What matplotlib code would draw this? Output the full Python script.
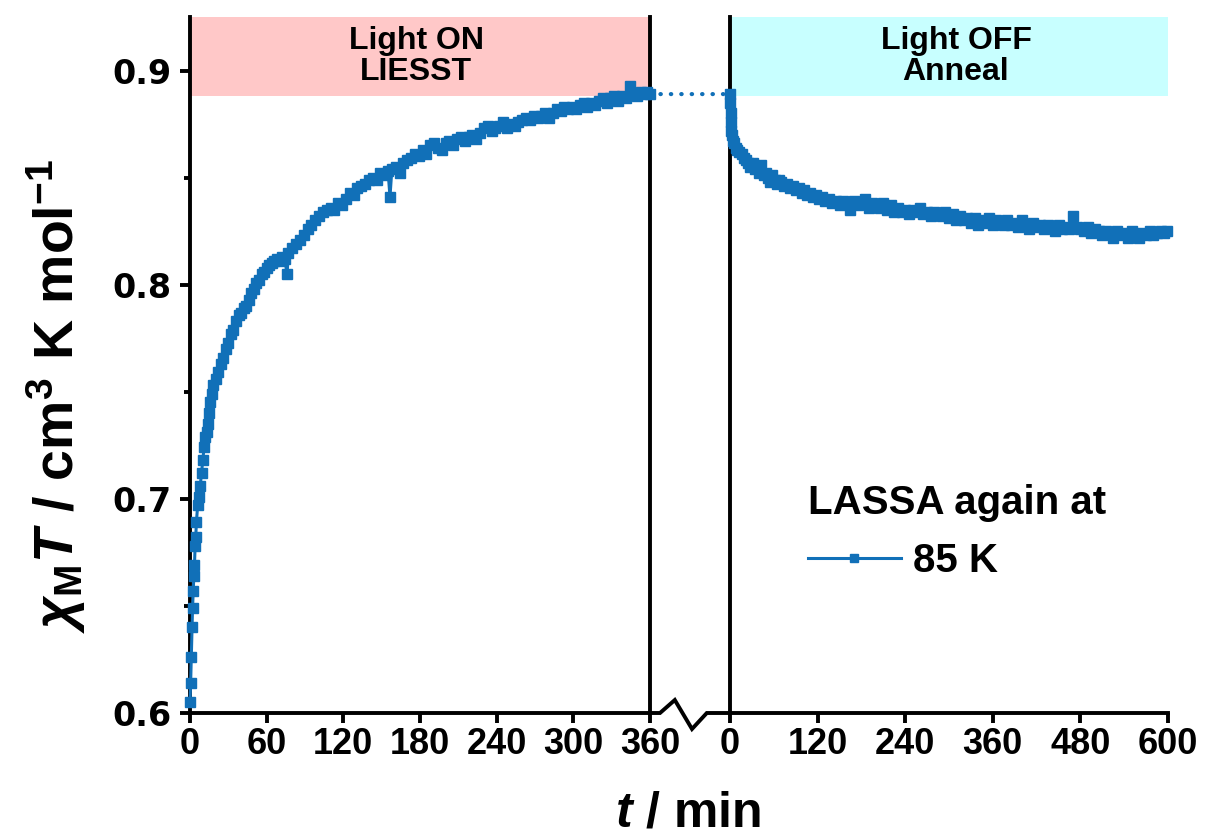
import matplotlib
matplotlib.use("Agg")
import matplotlib.pyplot as plt
from matplotlib.patches import ConnectionPatch
from matplotlib.lines import Line2D
from matplotlib.ticker import MultipleLocator

plt.rcParams['font.family'] = ['Liberation Sans', 'DejaVu Sans']
plt.rcParams['mathtext.fontset'] = 'custom'
plt.rcParams['mathtext.rm'] = 'Liberation Sans:bold'
plt.rcParams['mathtext.it'] = 'Liberation Sans:italic:bold'
plt.rcParams['mathtext.bf'] = 'Liberation Sans:bold'

# ---------------- data ----------------
t_on = [0, 0.5, 1.0, 1.5, 2.0, 2.5, 3.0, 3.5, 4.0, 4.5, 5.0, 6, 7, 8, 9, 10, 11, 12, 13, 14,
        15, 16, 17, 18, 20, 22, 24, 26, 28, 30, 32, 34, 36, 38, 40, 42, 44, 46, 48, 50,
        52, 54, 56, 58, 60, 62, 64, 66, 68, 70, 72, 74, 76, 77, 80, 83, 86, 89, 92, 95,
        98, 101, 104, 107, 110, 113, 116, 119, 122, 125, 128, 131, 134, 137, 140, 143, 146, 149, 152, 155,
        156.5, 158, 161, 164, 167, 170, 173, 176, 179, 182, 185, 188, 191, 194, 197, 200, 203, 206, 209, 212,
        215, 218, 221, 224, 227, 230, 233, 236, 239, 242, 245, 248, 251, 254, 257, 260, 263, 266, 269, 272,
        275, 278, 281, 284, 287, 290, 293, 296, 299, 302, 305, 308, 311, 314, 317, 320, 323, 326, 329, 332,
        335, 338, 341, 344, 347, 350, 353, 356, 358, 360]
chi_on = [0.605, 0.614, 0.626, 0.640, 0.649, 0.657, 0.664, 0.669, 0.678, 0.682, 0.689, 0.697, 0.701, 0.706, 0.712, 0.718, 0.724, 0.729, 0.731, 0.735,
          0.740, 0.745, 0.749, 0.753, 0.756, 0.759, 0.763, 0.766, 0.770, 0.773, 0.777, 0.779, 0.783, 0.786, 0.787, 0.789, 0.790, 0.793, 0.796, 0.798,
          0.801, 0.802, 0.805, 0.806, 0.808, 0.809, 0.810, 0.811, 0.812, 0.811, 0.813, 0.812, 0.805, 0.815, 0.817, 0.819, 0.821, 0.823, 0.826, 0.828,
          0.830, 0.832, 0.834, 0.835, 0.836, 0.835, 0.838, 0.837, 0.840, 0.843, 0.842, 0.845, 0.846, 0.847, 0.849, 0.850, 0.849, 0.852, 0.851, 0.853,
          0.841, 0.854, 0.855, 0.852, 0.857, 0.858, 0.859, 0.861, 0.860, 0.863, 0.861, 0.865, 0.866, 0.864, 0.863, 0.866, 0.867, 0.865, 0.868, 0.869,
          0.867, 0.869, 0.870, 0.868, 0.871, 0.873, 0.874, 0.872, 0.873, 0.874, 0.876, 0.873, 0.875, 0.874, 0.876, 0.877, 0.878, 0.877, 0.879, 0.878,
          0.879, 0.880, 0.878, 0.880, 0.882, 0.881, 0.883, 0.882, 0.883, 0.882, 0.884, 0.885, 0.883, 0.885, 0.884, 0.886, 0.887, 0.885, 0.887, 0.888,
          0.886, 0.888, 0.887, 0.893, 0.889, 0.888, 0.890, 0.889, 0.890, 0.889]

t_off = [0, 0.5, 1, 1.5, 2, 3, 4, 6, 8, 10, 13, 16, 19, 22, 25, 28, 31, 34, 37, 40,
         43, 46, 49, 52, 55, 58, 61, 64, 67, 70, 74, 78, 82, 86, 90, 94, 98, 102, 106, 110,
         114, 118, 122, 126, 130, 135, 140, 145, 150, 155, 160, 165, 170, 175, 180, 185, 190, 195, 200, 205,
         210, 215, 220, 225, 230, 235, 240, 245, 250, 255, 260, 265, 270, 275, 280, 285, 290, 295, 300, 305,
         310, 315, 320, 325, 330, 335, 340, 345, 350, 355, 360, 365, 370, 375, 380, 385, 390, 395, 400, 405,
         410, 415, 420, 425, 430, 435, 440, 445, 450, 455, 460, 465, 470, 475, 480, 485, 490, 495, 500, 505,
         510, 515, 520, 525, 530, 535, 540, 545, 550, 555, 560, 565, 570, 575, 580, 585, 590, 595, 598]
chi_off = [0.889, 0.885, 0.880, 0.876, 0.872, 0.870, 0.867, 0.866, 0.864, 0.863, 0.862, 0.861, 0.859, 0.858, 0.857, 0.855, 0.857, 0.854, 0.855, 0.852,
           0.856, 0.851, 0.852, 0.850, 0.848, 0.851, 0.849, 0.847, 0.849, 0.848, 0.846, 0.847, 0.845, 0.846, 0.844, 0.845, 0.843, 0.844, 0.842, 0.843,
           0.841, 0.842, 0.840, 0.841, 0.839, 0.840, 0.838, 0.839, 0.837, 0.839, 0.838, 0.835, 0.839, 0.837, 0.838, 0.840, 0.836, 0.838, 0.837, 0.836,
           0.838, 0.835, 0.837, 0.834, 0.836, 0.834, 0.835, 0.833, 0.835, 0.834, 0.836, 0.833, 0.834, 0.832, 0.834, 0.833, 0.832, 0.834, 0.831, 0.833,
           0.830, 0.832, 0.830, 0.831, 0.829, 0.831, 0.828, 0.830, 0.829, 0.831, 0.828, 0.830, 0.829, 0.828, 0.830, 0.828, 0.829, 0.827, 0.830, 0.828,
           0.826, 0.829, 0.827, 0.828, 0.826, 0.828, 0.827, 0.825, 0.828, 0.826, 0.827, 0.826, 0.832, 0.827, 0.826, 0.825, 0.827, 0.824, 0.826, 0.825,
           0.823, 0.825, 0.824, 0.822, 0.825, 0.823, 0.824, 0.822, 0.825, 0.823, 0.822, 0.824, 0.823, 0.825, 0.823, 0.824, 0.825, 0.824, 0.825]

xticks_on = [0, 60, 120, 180, 240, 300, 360]
xticks_off = [0, 120, 240, 360, 480, 600]
yticks = [0.6, 0.7, 0.8, 0.9]
band_low, y_top = 0.888, 0.925

blue = '#1170B8'
pink = '#FFC8C8'
cyan = '#C8FFFF'
lw_ax = 2.8

W, H = 1206, 836
fig = plt.figure(figsize=(W / 100, H / 100), dpi=100)
ax1 = fig.add_axes([190 / W, 123 / H, 460 / W, 696 / H])
ax2 = fig.add_axes([730 / W, 123 / H, 438 / W, 696 / H])

for ax in (ax1, ax2):
    ax.set_ylim(0.6, y_top)
    ax.spines['top'].set_visible(False)
    for s in ax.spines.values():
        s.set_linewidth(lw_ax)
    ax.tick_params(axis='x', direction='out', length=7, width=lw_ax, pad=3)

ax2.spines['right'].set_visible(False)

ax1.set_xlim(0, 360)
ax2.set_xlim(0, 600)
ax1.set_xticks(xticks_on)
ax2.set_xticks(xticks_off)
ax1.set_xticklabels([str(v) for v in xticks_on], fontweight='bold', fontsize=26)
ax2.set_xticklabels([str(v) for v in xticks_off], fontweight='bold', fontsize=26)

ax1.set_yticks(yticks)
ax1.yaxis.set_minor_locator(MultipleLocator(0.05))
ax1.set_yticklabels([f'{v:.1f}' for v in yticks], fontweight='bold', fontsize=24,
                    family='DejaVu Sans')
ax1.tick_params(axis='y', which='major', direction='out', length=7, width=lw_ax, pad=6)
ax1.tick_params(axis='y', which='minor', direction='out', length=4, width=lw_ax)
ax2.tick_params(axis='y', which='both', left=False, labelleft=False)

# shaded bands
ax1.axhspan(band_low, y_top, color=pink, lw=0, zorder=0)
ax2.axhspan(band_low, y_top, color=cyan, lw=0, zorder=0)
ymid = (band_low + y_top) / 2
ax1.text(0.492, ymid, 'Light ON\nLIESST', transform=ax1.get_yaxis_transform(),
         ha='center', va='center', fontsize=23, fontweight='bold', linespacing=1.05)
ax2.text(0.516, ymid, 'Light OFF\nAnneal', transform=ax2.get_yaxis_transform(),
         ha='center', va='center', fontsize=23, fontweight='bold', linespacing=1.05)

# data
ax1.plot(t_on, chi_on, '-s', color=blue, ms=6.5, lw=2.2, mec=blue, zorder=3, clip_on=False)
ax2.plot(t_off, chi_off, '-s', color=blue, ms=6.5, lw=2.2, mec=blue, zorder=3, clip_on=False,
         label='85 K')

# dotted link across the break
con = ConnectionPatch(xyA=(t_on[-1], chi_on[-1]), coordsA=ax1.transData,
                      xyB=(t_off[0], chi_off[0]), coordsB=ax2.transData,
                      color=blue, lw=3.0, linestyle=(0, (0.1, 2.4)),
                      capstyle='round', zorder=2)
fig.add_artist(con)

# axis-break zigzag on the bottom line
x_l = 650 / W
x_r = 730 / W
gap = x_r - x_l
yb = 123 / H
fx = [0, 0.125, 0.31, 0.525, 0.71, 1.0]
fy = [0, 0, 13, -16, 0, 0]
fig.add_artist(Line2D([x_l + f * gap for f in fx], [yb + d / H for d in fy],
                      color='black', lw=lw_ax, transform=fig.transFigure,
                      solid_joinstyle='miter'))

# legend
leg = ax2.legend(title='LASSA again at', loc='upper left',
                 bbox_to_anchor=((808 - 730) / 438, (713 - 484) / 696),
                 frameon=False, borderpad=0, borderaxespad=0, numpoints=1,
                 handlelength=2.3, handletextpad=0.3, alignment='left',
                 prop={'size': 29, 'weight': 'bold'},
                 title_fontproperties={'size': 29, 'weight': 'bold'})
for ln in leg.get_lines():
    ln.set_linewidth(2.2)
    ln.set_markersize(6)

# axis labels
fig.text(56 / W, 1 - 396 / H,
         r'$\chi_{\mathrm{M}}T\ /\ \mathrm{cm}^{3}\ \mathrm{K\ mol}^{-1}$',
         rotation=90, ha='center', va='center', fontsize=40)
fig.text(688 / W, 1 - 813 / H, r'$t$ / min', ha='center', va='center',
         fontsize=36, fontweight='bold')

fig.savefig('out.png', dpi=100)
